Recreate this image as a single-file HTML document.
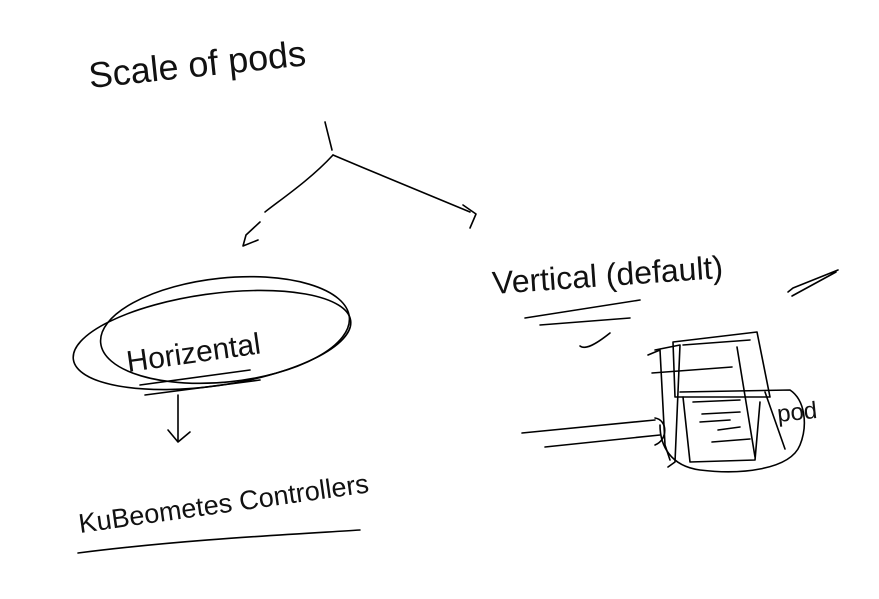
<!DOCTYPE html>
<html><head><style>
html,body{margin:0;padding:0;background:#fff;width:879px;height:599px;overflow:hidden}
svg{display:block}
text{font-family:"Liberation Sans",sans-serif;fill:#111}
</style></head><body>
<svg width="879" height="599" viewBox="0 0 879 599" fill="none" stroke="#000" stroke-width="1.6" stroke-linecap="round" stroke-linejoin="round">
<text x="90" y="88" font-size="36" stroke="none" transform="rotate(-6 90 88)">Scale of pods</text>
<path d="M325 122 L332 150"/>
<path d="M333 155 C310 180 280 200 265 212"/>
<path d="M333 155 C380 175 430 195 470 212"/>
<path d="M260 222 L246 235 L243 246 L258 240"/>
<path d="M463 205 L476 214 L470 228"/>
<text x="128" y="372" font-size="30" stroke="none" transform="rotate(-8 128 372)">Horizental</text>
<ellipse cx="212" cy="340" rx="140" ry="46" transform="rotate(-8 212 340)"/>
<ellipse cx="225" cy="330" rx="125" ry="52" transform="rotate(-6 225 330)"/>
<path d="M140 385 L250 370"/><path d="M145 395 L260 380"/>
<path d="M178 395 L178 440 M168 430 L178 442 L190 432"/>
<text x="80" y="533" font-size="27" stroke="none" transform="rotate(-8 80 533)">KuBeometes Controllers</text>
<path d="M78 553 C180 540 280 535 360 530"/>
<text x="493" y="294" font-size="32" stroke="none" transform="rotate(-4 493 294)">Vertical (default)</text>
<path d="M788 292 L793 288 L838 270 M792 296 L836 272"/>
<path d="M525 318 L640 300 M540 325 L630 318"/>
<path d="M580 346 C585 350 595 345 610 333"/>
<path d="M673 342 L757 332 L770 397 L675 397 Z"/>
<path d="M655 350 L680 345 L675 462 L668 467"/>
<path d="M648 355 L660 350 L665 445 L670 460"/>
<path d="M680 392 L790 390 C805 400 808 425 800 445 C790 470 740 475 700 470 C670 466 660 445 660 425"/>
<path d="M683 397 L690 462 L755 460 L760 402"/>
<path d="M683 345 L750 340 M652 373 L732 367 M693 402 L740 400"/>
<path d="M702 414 L740 412 M700 422 L730 420 M718 430 L740 427 M712 442 L750 439"/>
<path d="M737 347 L755 457 M765 392 L785 449"/>
<path d="M522 433 L655 420 M545 447 L660 435"/>
<path d="M655 418 C668 420 668 440 655 445"/>
<text x="778" y="422" font-size="24" stroke="none" transform="rotate(-6 778 422)">pod</text>
</svg>
</body></html>
